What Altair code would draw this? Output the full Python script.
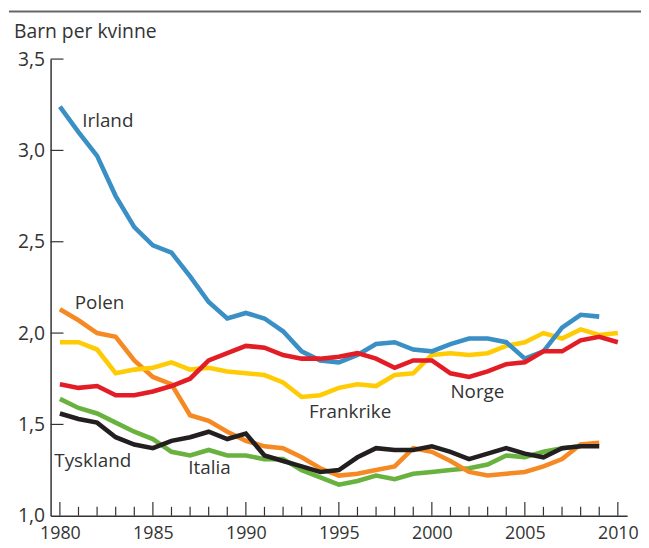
import altair as alt
import pandas as pd

years = list(range(1980, 2011))

irland = [3.24, 3.10, 2.97, 2.75, 2.58, 2.48, 2.44, 2.31, 2.17, 2.08, 2.11, 2.08, 2.01, 1.90, 1.85, 1.84,
          1.88, 1.94, 1.95, 1.91, 1.90, 1.94, 1.97, 1.97, 1.95, 1.86, 1.90, 2.03, 2.10, 2.09, None]
polen = [2.13, 2.07, 2.00, 1.98, 1.85, 1.76, 1.72, 1.55, 1.52, 1.46, 1.41, 1.38, 1.37, 1.32, 1.26, 1.22,
         1.23, 1.25, 1.27, 1.37, 1.35, 1.30, 1.24, 1.22, 1.23, 1.24, 1.27, 1.31, 1.39, 1.40, None]
frankrike = [1.95, 1.95, 1.91, 1.78, 1.80, 1.81, 1.84, 1.80, 1.81, 1.79, 1.78, 1.77, 1.73, 1.65, 1.66, 1.70,
             1.72, 1.71, 1.77, 1.78, 1.88, 1.89, 1.88, 1.89, 1.93, 1.95, 2.00, 1.97, 2.02, 1.99, 2.00]
norge = [1.72, 1.70, 1.71, 1.66, 1.66, 1.68, 1.71, 1.75, 1.85, 1.89, 1.93, 1.92, 1.88, 1.86, 1.86, 1.87,
         1.89, 1.86, 1.81, 1.85, 1.85, 1.78, 1.76, 1.79, 1.83, 1.84, 1.90, 1.90, 1.96, 1.98, 1.95]
tyskland = [1.56, 1.53, 1.51, 1.43, 1.39, 1.37, 1.41, 1.43, 1.46, 1.42, 1.45, 1.33, 1.30, 1.27, 1.24, 1.25,
            1.32, 1.37, 1.36, 1.36, 1.38, 1.35, 1.31, 1.34, 1.37, 1.34, 1.32, 1.37, 1.38, 1.38, None]
italia = [1.64, 1.59, 1.56, 1.51, 1.46, 1.42, 1.35, 1.33, 1.36, 1.33, 1.33, 1.31, 1.31, 1.25, 1.21, 1.17,
          1.19, 1.22, 1.20, 1.23, 1.24, 1.25, 1.26, 1.28, 1.33, 1.32, 1.35, 1.37, 1.38, None, None]

series_names = ["Italia", "Polen", "Tyskland", "Frankrike", "Irland", "Norge"]
series_values = [italia, polen, tyskland, frankrike, irland, norge]
series_colors = ["#69B23F", "#F58A24", "#231F20", "#FFCB05", "#3A8FC4", "#E31D26"]

label_names = ["Irland", "Polen", "Frankrike", "Norge", "Tyskland", "Italia"]
label_x = [1981.2, 1980.8, 1993.4, 2001.0, 1979.7, 1986.9]
label_y = [3.16, 2.165, 1.57, 1.675, 1.30, 1.26]

y_ticks = [1.5, 2.0, 2.5, 3.0, 3.5]
x_labels = [1980, 1985, 1990, 1995, 2000, 2005, 2010]

rows = []
for order, (name, vals) in enumerate(zip(series_names, series_values)):
    for yr, v in zip(years, vals):
        if v is not None:
            rows.append({"land": name, "year": yr, "value": v, "order": order})
df = pd.DataFrame(rows)

labels_df = pd.DataFrame({"text": label_names, "year": label_x, "value": label_y})
major_df = pd.DataFrame({"year": [y for y in years if y % 5 == 0]})
minor_df = pd.DataFrame({"year": [y for y in years if y % 5 != 0]})
yt_df = pd.DataFrame({"value": y_ticks})

W, H = 582, 461
FONT = "Open Sans"
TXT = "#333333"

xscale = alt.Scale(domain=[1979.5, 2010.5], nice=False, zero=False)
yscale = alt.Scale(domain=[1.0, 3.5], nice=False, zero=False)

xaxis = alt.Axis(values=x_labels, format="d", tickSize=0, labelPadding=9, labelFontSize=18,
                 labelColor=TXT, labelFont=FONT, domainColor=TXT, domainWidth=1.5, grid=False,
                 title=None, labelFlush=False)
yaxis = alt.Axis(values=[1.0] + y_ticks, tickSize=0, labelPadding=6, labelFontSize=19.5,
                 labelColor=TXT, labelFont=FONT, domainColor=TXT, domainWidth=1.5, grid=False,
                 title=None, labelExpr="replace(format(datum.value, '.1f'), '.', ',')")

base_axes = alt.Chart(df).mark_line(opacity=0).encode(
    x=alt.X("year:Q", scale=xscale, axis=xaxis),
    y=alt.Y("value:Q", scale=yscale, axis=yaxis),
    detail="land:N",
)

lines = alt.Chart(df).mark_line(strokeWidth=4.6, strokeJoin="miter", strokeCap="butt").encode(
    x=alt.X("year:Q", scale=xscale),
    y=alt.Y("value:Q", scale=yscale),
    color=alt.Color("land:N", scale=alt.Scale(domain=series_names, range=series_colors), legend=None),
    order="order:Q",
)

major_ticks = alt.Chart(major_df).mark_rule(color=TXT, strokeWidth=1.2).encode(
    x=alt.X("year:Q", scale=xscale), y=alt.value(H), y2=alt.value(H - 14))
minor_ticks = alt.Chart(minor_df).mark_rule(color=TXT, strokeWidth=1.2).encode(
    x=alt.X("year:Q", scale=xscale), y=alt.value(H), y2=alt.value(H - 9))
y_tick_marks = alt.Chart(yt_df).mark_rule(color=TXT, strokeWidth=1.2).encode(
    y=alt.Y("value:Q", scale=yscale), x=alt.value(0), x2=alt.value(13))

labels = alt.Chart(labels_df).mark_text(align="left", baseline="middle", fontSize=19, font=FONT,
                                        color=TXT).encode(
    x=alt.X("year:Q", scale=xscale), y=alt.Y("value:Q", scale=yscale), text="text:N")

title_text = alt.Chart(pd.DataFrame({"t": ["Barn per kvinne"]})).mark_text(
    align="left", baseline="alphabetic", fontSize=19.5, font=FONT, color=TXT).encode(
    x=alt.value(-37), y=alt.value(-21), text="t:N")

top_rule = alt.Chart(pd.DataFrame({"a": [0]})).mark_rule(color="#666666", strokeWidth=2).encode(
    x=alt.value(-42), x2=alt.value(W + 20), y=alt.value(-48))

chart = alt.layer(base_axes, major_ticks, minor_ticks, y_tick_marks, lines, labels, title_text, top_rule).properties(
    width=W, height=H,
    padding={"left": 43, "top": 49, "right": 14, "bottom": 30},
    autosize=alt.AutoSizeParams(type="none"),
).configure_view(stroke=None)

chart.save("out.html", embed_options={"renderer": "svg", "actions": False})
